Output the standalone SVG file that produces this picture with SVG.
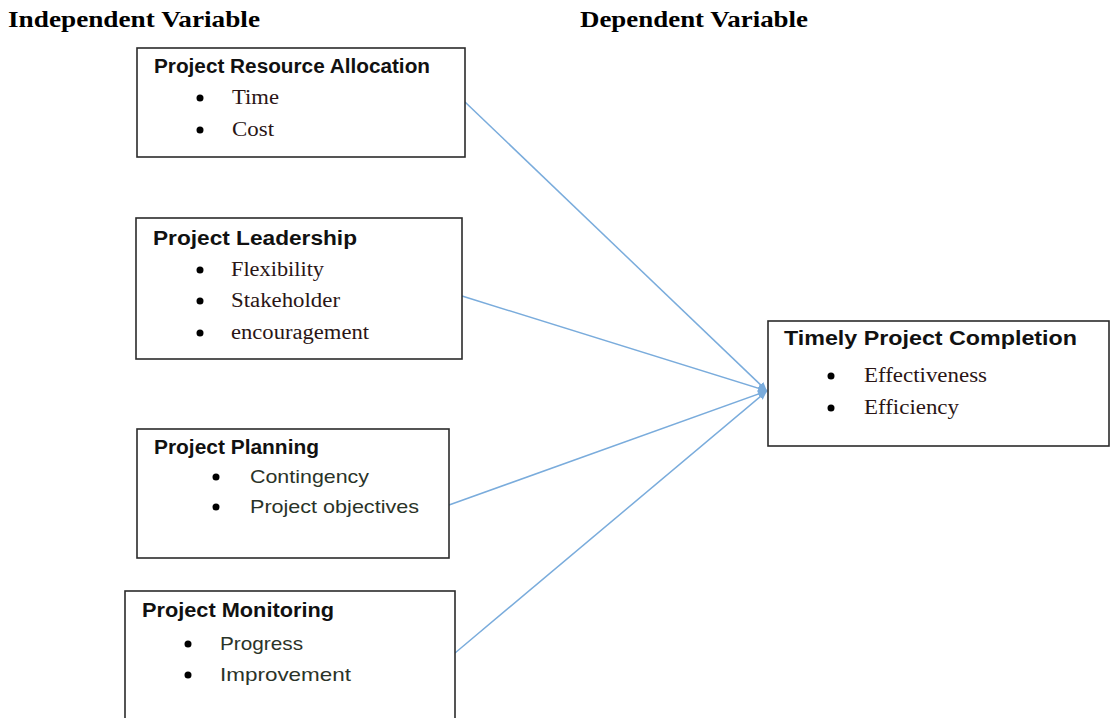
<svg xmlns="http://www.w3.org/2000/svg" width="1112" height="718" viewBox="0 0 1112 718">
<defs>
<style>
.box{fill:#fff;stroke:#2b2b2b;stroke-width:1.6}
.ttl{font-family:"Liberation Serif","Times New Roman",serif;font-weight:bold;font-size:23px;fill:#000}
.hd{font-family:"Liberation Sans",Arial,sans-serif;font-weight:bold;font-size:19.5px;fill:#111}
.sr{font-family:"Liberation Serif","Times New Roman",serif;font-size:20px;fill:#2a1515}
.ss{font-family:"Liberation Sans",Arial,sans-serif;font-size:19px;fill:#2a3328}
.bul{fill:#000}
.con{stroke:#7aacdc;stroke-width:1.5;fill:none}
</style>
<marker id="ah" markerWidth="10" markerHeight="10" refX="9" refY="5" orient="auto" markerUnits="userSpaceOnUse">
<path d="M0,1 L9,5 L0,9 Z" fill="#7aacdc"/>
</marker>
</defs>
<rect width="1112" height="718" fill="#fff"/>
<text class="ttl" x="8" y="27" textLength="252" lengthAdjust="spacingAndGlyphs">Independent Variable</text>
<text class="ttl" x="580" y="27" textLength="228" lengthAdjust="spacingAndGlyphs">Dependent Variable</text>

<g id="connectors">
<line class="con" x1="465" y1="102" x2="767" y2="391" marker-end="url(#ah)"/>
<line class="con" x1="462" y1="296" x2="767" y2="391" marker-end="url(#ah)"/>
<line class="con" x1="449" y1="505" x2="767" y2="391" marker-end="url(#ah)"/>
<line class="con" x1="455" y1="653" x2="767" y2="391" marker-end="url(#ah)"/>
</g>

<g id="resource">
<rect class="box" x="137" y="48" width="328" height="109"/>
<text class="hd" x="154" y="73" textLength="276" lengthAdjust="spacingAndGlyphs">Project Resource Allocation</text>
<circle class="bul" cx="200" cy="98" r="3.5"/>
<text class="sr" x="232" y="104" textLength="47" lengthAdjust="spacingAndGlyphs">Time</text>
<circle class="bul" cx="200" cy="130" r="3.5"/>
<text class="sr" x="232" y="136" textLength="42" lengthAdjust="spacingAndGlyphs">Cost</text>
</g>

<g id="leadership">
<rect class="box" x="136" y="218" width="326" height="141"/>
<text class="hd" x="153" y="245" textLength="204" lengthAdjust="spacingAndGlyphs">Project Leadership</text>
<circle class="bul" cx="200" cy="270" r="3.5"/>
<text class="sr" x="231" y="276" textLength="93" lengthAdjust="spacingAndGlyphs">Flexibility</text>
<circle class="bul" cx="200" cy="301" r="3.5"/>
<text class="sr" x="231" y="307" textLength="109" lengthAdjust="spacingAndGlyphs">Stakeholder</text>
<circle class="bul" cx="200" cy="333" r="3.5"/>
<text class="sr" x="231" y="339" textLength="138" lengthAdjust="spacingAndGlyphs">encouragement</text>
</g>

<g id="planning">
<rect class="box" x="137" y="429" width="312" height="129"/>
<text class="hd" x="154" y="454" textLength="165" lengthAdjust="spacingAndGlyphs">Project Planning</text>
<circle class="bul" cx="216" cy="477" r="3.5"/>
<text class="ss" x="250" y="483" textLength="119" lengthAdjust="spacingAndGlyphs">Contingency</text>
<circle class="bul" cx="216" cy="507" r="3.5"/>
<text class="ss" x="250" y="513" textLength="169" lengthAdjust="spacingAndGlyphs">Project objectives</text>
</g>

<g id="monitoring">
<rect class="box" x="125" y="591" width="330" height="140"/>
<text class="hd" x="142" y="617" textLength="192" lengthAdjust="spacingAndGlyphs">Project Monitoring</text>
<circle class="bul" cx="188" cy="644" r="3.5"/>
<text class="ss" x="220" y="650" textLength="83" lengthAdjust="spacingAndGlyphs">Progress</text>
<circle class="bul" cx="188" cy="675" r="3.5"/>
<text class="ss" x="220" y="681" textLength="131" lengthAdjust="spacingAndGlyphs">Improvement</text>
</g>

<g id="completion">
<rect class="box" x="768" y="321" width="341" height="125"/>
<text class="hd" x="784" y="345" textLength="293" lengthAdjust="spacingAndGlyphs">Timely Project Completion</text>
<circle class="bul" cx="831" cy="376" r="3.5"/>
<text class="sr" x="864" y="382" textLength="123" lengthAdjust="spacingAndGlyphs">Effectiveness</text>
<circle class="bul" cx="831" cy="408" r="3.5"/>
<text class="sr" x="864" y="414" textLength="95" lengthAdjust="spacingAndGlyphs">Efficiency</text>
</g>
</svg>
